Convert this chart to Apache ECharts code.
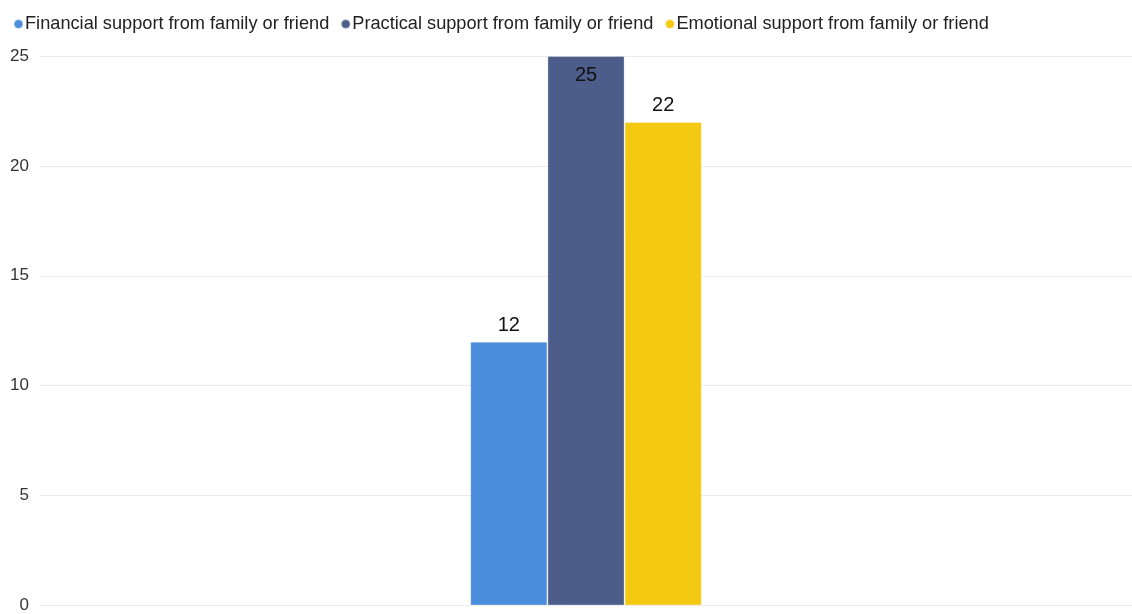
<!DOCTYPE html>
<html>
<head>
<meta charset="utf-8">
<style>
  html, body { margin: 0; padding: 0; background: #fff; overflow: hidden; }
  #chart { width: 1132px; height: 614px; }
</style>
<script src="https://cdn.jsdelivr.net/npm/echarts@6/dist/echarts.min.js"></script>
</head>
<body>
<div id="chart"></div>
<script>
// Single category with three support types
const categories = [''];
const seriesNames = [
  'Financial support from family or friend',
  'Practical support from family or friend',
  'Emotional support from family or friend'
];
const financial = [12];
const practical = [25];
const emotional = [22];
const colors = ['#4A8DDC', '#4C5D8A', '#F3C911'];

const chart = echarts.init(document.getElementById('chart'));

function bar(name, data, color, labelPos, dist) {
  return {
    name: name,
    type: 'bar',
    data: data,
    barGap: '0%',
    barCategoryGap: '78.8%',
    itemStyle: { color: color, borderColor: 'rgba(255,255,255,0.3)', borderWidth: 1 },
    label: {
      show: true,
      position: labelPos,
      distance: dist,
      color: '#111',
      fontSize: 20,
      fontFamily: 'Liberation Sans, Arial, sans-serif'
    }
  };
}

chart.setOption({
  animation: false,
  textStyle: { fontFamily: 'Liberation Sans, Arial, sans-serif' },
  color: colors,
  legend: {
    left: 8,
    top: 10,
    icon: 'circle',
    itemWidth: 9,
    itemHeight: 9,
    itemGap: 11,
    textStyle: { fontSize: 18.2, color: '#222', padding: [0, 0, 0, -3] },
    data: seriesNames
  },
  grid: { left: 40, right: 0, top: 56, bottom: 5, containLabel: false },
  xAxis: {
    type: 'category',
    data: categories,
    axisLine: { show: false },
    axisTick: { show: false },
    axisLabel: { show: false }
  },
  yAxis: {
    type: 'value',
    min: 0,
    max: 25,
    interval: 5,
    axisLine: { show: false },
    axisTick: { show: false },
    axisLabel: { color: '#333', fontSize: 17, margin: 11 },
    splitLine: { lineStyle: { color: '#ececec', width: 1 } }
  },
  series: [
    bar(seriesNames[0], financial, colors[0], 'top', 6),
    bar(seriesNames[1], practical, colors[1], 'insideTop', 9),
    bar(seriesNames[2], emotional, colors[2], 'top', 6)
  ]
});
</script>
</body>
</html>
